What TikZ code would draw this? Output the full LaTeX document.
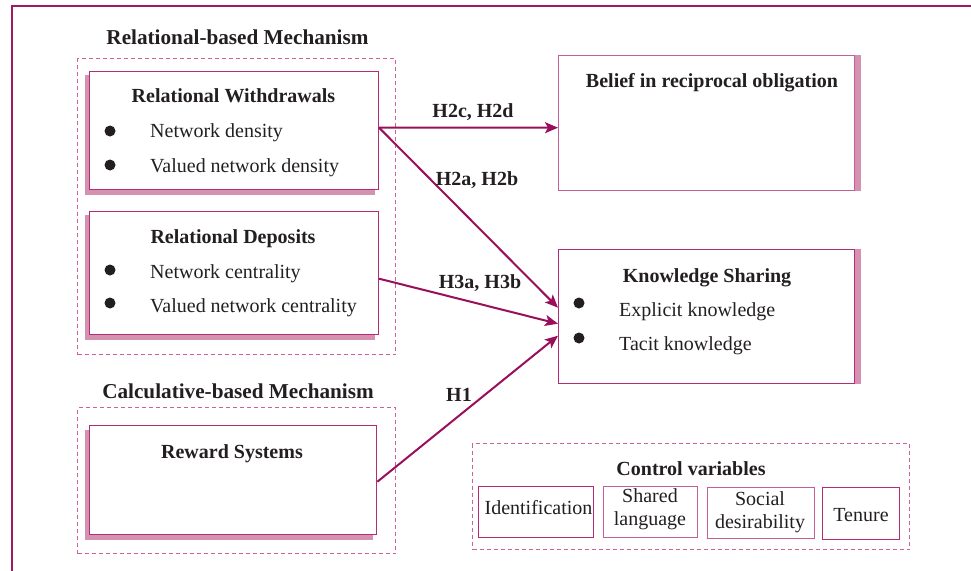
\documentclass[tikz,border=0pt]{standalone}
\usepackage{fontspec}
\setmainfont{Liberation Serif}
\usetikzlibrary{arrows.meta,backgrounds}
\definecolor{framecol}{HTML}{9E1A62}
\definecolor{boxcol}{HTML}{B42C74}
\definecolor{lightbox}{HTML}{C55E93}
\definecolor{dashcol}{HTML}{D0609A}
\definecolor{shadowcol}{HTML}{D592B0}
\definecolor{arrcol}{HTML}{9A0F5B}
\definecolor{txt}{HTML}{231F20}
\begin{document}
\begin{tikzpicture}[x=1pt,y=-1pt, font=\fontsize{20}{23}\selectfont, text=txt,
 box/.style={draw=boxcol, line width=1.4pt, fill=white, inner sep=0pt, anchor=north west},
 lbox/.style={box, draw=lightbox},
 dbox/.style={draw=dashcol, line width=1.3pt, dash pattern=on 4pt off 3pt, inner sep=0pt, anchor=north west},
 ttl/.style={font=\fontsize{20}{23}\selectfont\bfseries, inner sep=0pt, anchor=base},
 bigttl/.style={ttl, font=\fontsize{21.2}{24}\selectfont\bfseries},
 itm/.style={inner sep=0pt, anchor=base west},
 ctext/.style={inner sep=0pt, anchor=base},
 bul/.style={circle, fill=txt, minimum size=11pt, inner sep=0pt},
 arr/.style={draw=arrcol, line width=2pt, -{Stealth[length=13pt,width=11pt,inset=3pt]}},
]
\clip (0,0) rectangle (971,570);
% outer frame (cropped)
\draw[framecol, line width=2.5pt] (12,590) -- (12,6) -- (990,6);

% dashed groups
\node[dbox, minimum width=318pt, minimum height=296pt] (d1) at (77,58) {};
\node[dbox, minimum width=318pt, minimum height=146pt] (d2) at (77,407) {};
\node[dbox, minimum width=437pt, minimum height=106pt] (d3) at (472,443) {};

% main boxes
\node[box, minimum width=288.7pt, minimum height=118.3pt] (rw) at (89,70.7) {};
\node[box, minimum width=288.7pt, minimum height=123.3pt] (rd) at (89,210.7) {};
\node[box, minimum width=287pt, minimum height=109pt] (rs) at (89,425) {};
\node[lbox, minimum width=296pt, minimum height=135pt] (belief) at (558,55) {};
\node[box, minimum width=296pt, minimum height=134pt] (ks) at (558,249) {};

% control variable boxes
\node[box, minimum width=115pt, minimum height=51pt] (c1) at (478,486) {};
\node[lbox, minimum width=94pt, minimum height=51pt] (c2) at (603,486) {};
\node[lbox, minimum width=107pt, minimum height=51pt] (c3) at (707,487) {};
\node[box, minimum width=77pt, minimum height=52pt] (c4) at (822,487) {};

% page background and shadows
\begin{scope}[on background layer]
 \fill[white] (0,0) rectangle (971,570);
 \foreach \b in {rw,rd,rs}{
  \fill[shadowcol] ([xshift=-4.5pt,yshift=-4.5pt]\b.south west) rectangle ([xshift=-4.5pt,yshift=-4.5pt]\b.north east);
 }
 \foreach \b in {belief,ks}{
  \fill[shadowcol] ([xshift=5.5pt]\b.south west) rectangle ([xshift=5.5pt]\b.north east);
 }
\end{scope}

% titles
\node[bigttl] (t1) at (237.5,44) {Relational-based Mechanism};
\node[bigttl] (t2) at (238,398) {Calculative-based Mechanism};

% Relational Withdrawals
\node[ttl] (rwt) at (233.5,102) {Relational Withdrawals};
\node[bul] (rwb1) at (110,131) {};
\node[bul] (rwb2) at (110,165) {};
\node[itm] (rwi1) at (150,137) {Network density};
\node[itm] (rwi2) at (150,172) {Valued network density};

% Relational Deposits
\node[ttl] (rdt) at (233,243) {Relational Deposits};
\node[bul] (rdb1) at (110,270) {};
\node[bul] (rdb2) at (110,303) {};
\node[itm] (rdi1) at (150,278) {Network centrality};
\node[itm] (rdi2) at (150,312) {Valued network centrality};

% Reward Systems
\node[ttl] (rst) at (232,458) {Reward Systems};

% Belief
\node[ttl] (bt) at (712,87) {Belief in reciprocal obligation};

% Knowledge Sharing
\node[ttl] (kst) at (707,282) {Knowledge Sharing};
\node[bul] (ksb1) at (579,303) {};
\node[bul] (ksb2) at (579,338) {};
\node[itm] (ksi1) at (619,316) {Explicit knowledge};
\node[itm] (ksi2) at (619,350) {Tacit knowledge};

% Control variables
\node[ttl] (cvt) at (691,475) {Control variables};
\node[ctext] (c1t) at (538.5,514) {Identification};
\node[ctext] (c2t1) at (650,502) {Shared};
\node[ctext] (c2t2) at (650,525) {language};
\node[ctext] (c3t1) at (760,505) {Social};
\node[ctext] (c3t2) at (760,528) {desirability};
\node[ctext] (c4t) at (861,521) {Tenure};

% arrows
\draw[arr] ([yshift=2.85pt]rw.east) -- ([yshift=-4.5pt]belief.west);
\draw[arr] ([yshift=2.85pt]rw.east) -- ([yshift=9pt]ks.west);
\draw[arr] ([yshift=-5.65pt]rd.east) -- ([yshift=-7pt]ks.west);
\draw[arr] ([yshift=-1.5pt]rs.east) -- ([yshift=-19pt]ks.west);

% hypothesis labels
\node[ttl] (h1) at (473,117) {H2c, H2d};
\node[ttl] (h2) at (477,185) {H2a, H2b};
\node[ttl] (h3) at (480,288) {H3a, H3b};
\node[ttl] (h4) at (459,401) {H1};
\end{tikzpicture}
\end{document}
